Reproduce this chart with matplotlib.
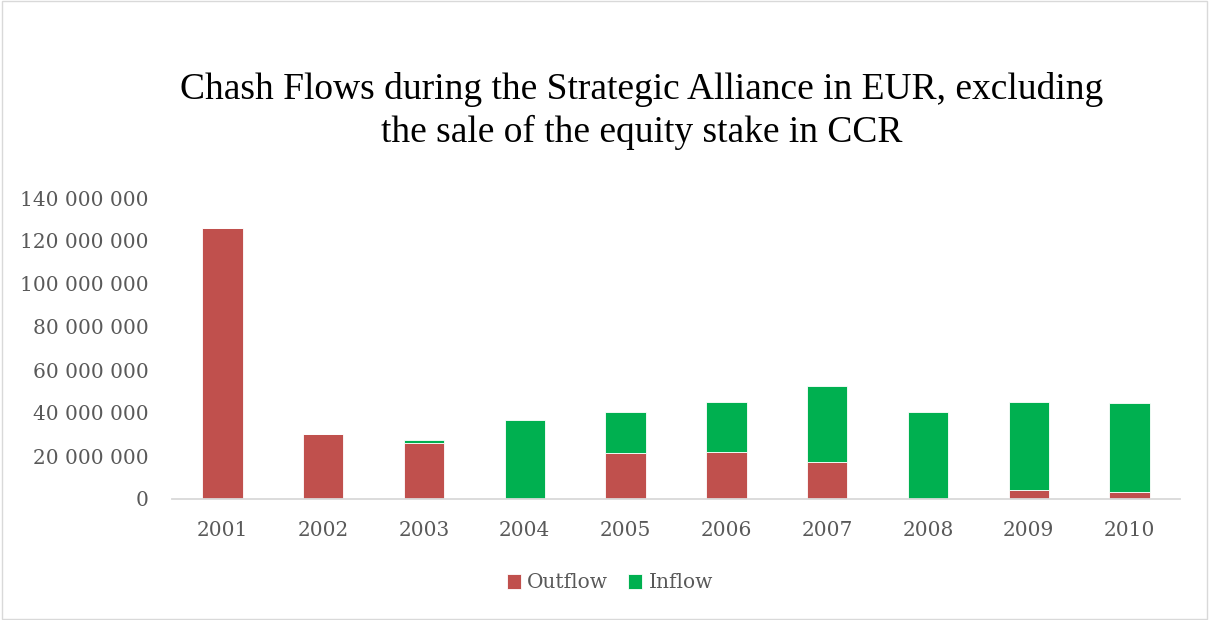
import matplotlib
matplotlib.use("Agg")
import matplotlib.pyplot as plt
from matplotlib.ticker import FuncFormatter
from matplotlib.patches import Rectangle

years = ["2001", "2002", "2003", "2004", "2005", "2006", "2007", "2008", "2009", "2010"]
outflow = [126.2e6, 30.2e6, 25.9e6, 0, 21.2e6, 21.9e6, 17.2e6, 0, 4.0e6, 3.3e6]
inflow = [0, 0, 1.5e6, 36.7e6, 19.1e6, 23.4e6, 35.4e6, 40.3e6, 41.3e6, 41.2e6]
yticks = [0, 20e6, 40e6, 60e6, 80e6, 100e6, 120e6, 140e6]

RED = "#C0504D"
GREEN = "#00B050"
TXT = "#595959"
serif = ["Liberation Serif", "DejaVu Serif"]
label_font = ["DejaVu Serif"]

fig = plt.figure(figsize=(12.09, 6.20), dpi=100)
fig.patches.append(Rectangle((0.002, 0.002), 0.996, 0.996, transform=fig.transFigure,
                             fill=False, edgecolor="#D9D9D9", linewidth=1.0))

ax = fig.add_axes([172 / 1209, 1 - 499 / 620, (1180 - 172) / 1209, (499 - 198) / 620])
x = list(range(len(years)))
ax.bar(x, outflow, width=0.4, color=RED, edgecolor="white", linewidth=0.6, label="Outflow")
ax.bar(x, inflow, width=0.4, bottom=outflow, color=GREEN, edgecolor="white", linewidth=0.6,
       label="Inflow")

ax.set_xlim(-0.5, len(years) - 0.5)
ax.set_ylim(0, 140e6)
ax.set_yticks(yticks)
ax.yaxis.set_major_formatter(FuncFormatter(lambda v, p: f"{int(v):,}".replace(",", " ")))
ax.set_xticks(x)
ax.set_xticklabels(years)

for s in ["top", "right", "left"]:
    ax.spines[s].set_visible(False)
ax.spines["bottom"].set_color("#D9D9D9")
ax.spines["bottom"].set_linewidth(1.3)
ax.tick_params(axis="both", length=0, colors=TXT, labelsize=14.5)
ax.tick_params(axis="x", pad=16)
ax.tick_params(axis="y", pad=17)
for lab in ax.get_xticklabels() + ax.get_yticklabels():
    lab.set_family(label_font)

fig.text(0.531, 1 - 111 / 620,
         "Chash Flows during the Strategic Alliance in EUR, excluding\nthe sale of the equity stake in CCR",
         ha="center", va="center", fontsize=27, family=serif, color="black", linespacing=1.3)

leg = fig.legend(loc="center", bbox_to_anchor=(610 / 1209, 1 - 583 / 620), ncol=2, frameon=False,
                 handlelength=0.7, handleheight=0.7, handletextpad=0.3, columnspacing=1.0,
                 prop={"family": label_font, "size": 14.5})
for t in leg.get_texts():
    t.set_color(TXT)

fig.savefig("out.png", dpi=100)
